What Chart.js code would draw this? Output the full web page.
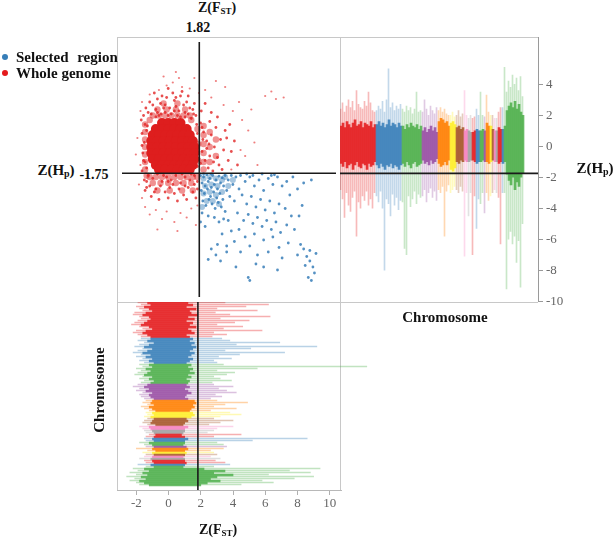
<!DOCTYPE html>
<html><head><meta charset="utf-8">
<script src="https://cdn.jsdelivr.net/npm/chart.js@4.4.0/dist/chart.umd.min.js"></script>
<style>
html,body{margin:0;padding:0;background:#fff;}
#wrap{position:relative;width:614px;height:538px;overflow:hidden;font-family:"Liberation Serif","DejaVu Serif",serif;}
.t{position:absolute;transform:translate(-50%,-50%);font-weight:bold;font-size:15px;color:#111;white-space:nowrap;line-height:1;}
.l{position:absolute;transform:translateY(-50%);font-weight:bold;font-size:15px;color:#111;white-space:nowrap;line-height:1;}
.sb{font-size:9px;position:relative;top:2px;}
.hl{position:absolute;background:#c8c8c8;height:1px;}
.vl{position:absolute;background:#c8c8c8;width:1px;}
.cv{position:absolute;}
.dot{position:absolute;width:6px;height:6px;border-radius:50%;transform:translate(-50%,-50%);}
</style></head>
<body>
<div id="wrap">
  <div class="hl" style="left:117px;top:37px;width:421px"></div>
  <div class="vl" style="left:117px;top:37px;height:453px"></div>
  <div class="vl" style="left:340px;top:37px;height:453px"></div>
  <div class="hl" style="left:117px;top:302px;width:421px"></div>

  <canvas id="c1" class="cv" width="224" height="265" style="left:117px;top:37px"></canvas>
  <canvas id="c2" class="cv" width="240" height="285" style="left:340px;top:27px"></canvas>
  <canvas id="c3" class="cv" width="254" height="218" style="left:117px;top:302px"></canvas>

  <div class="t" style="left:217px;top:8px;font-size:14px">Z(F<span class="sb">ST</span>)</div>
  <div class="t" id="fstLab" style="left:198px;top:28px;font-size:14px"></div>
  <div class="t" style="left:56px;top:170px">Z(H<span class="sb" style="font-size:10px">p</span>)</div>
  <div class="t" id="hpLab" style="left:94px;top:175px;font-size:14px"></div>
  <div class="t" style="left:595px;top:168px">Z(H<span class="sb" style="font-size:10px">p</span>)</div>
  <div class="t" style="left:445px;top:317px">Chromosome</div>
  <div class="t" style="left:99px;top:390px;transform:translate(-50%,-50%) rotate(-90deg)">Chromosome</div>
  <div class="t" style="left:218px;top:530px;font-size:14px">Z(F<span class="sb">ST</span>)</div>

  <div class="dot" style="left:5px;top:57px;background:#377eb8"></div>
  <div class="l" style="left:16px;top:57px;word-spacing:5px">Selected region</div>
  <div class="dot" style="left:5px;top:73px;background:#e41a1c"></div>
  <div class="l" style="left:16px;top:73px">Whole genome</div>
</div>
<script>
// ---------- thresholds & ticks ----------
const fstThreshold = 1.82;
const hpThreshold = -1.75;
const fstTicks = [-2, 0, 2, 4, 6, 8, 10];
const hpTicks = [4, 2, 0, -2, -4, -6, -8, -10];

// ---------- scatter: Z(Fst) vs Z(Hp) ----------
const redCore = [
  [-0.6,1.6],[-0.2,1.6],[0.2,1.6],[0.6,1.6],
  [-1.0,1.2],[-0.6,1.2],[-0.2,1.2],[0.2,1.2],[0.6,1.2],[1.0,1.2],
  [-1.2,0.8],[-0.8,0.8],[-0.4,0.8],[0,0.8],[0.4,0.8],[0.8,0.8],[1.2,0.8],
  [-1.3,0.4],[-0.9,0.4],[-0.5,0.4],[-0.1,0.4],[0.3,0.4],[0.7,0.4],[1.1,0.4],[1.4,0.4],
  [-1.3,0],[-0.9,0],[-0.5,0],[-0.1,0],[0.3,0],[0.7,0],[1.1,0],[1.5,0],
  [-1.3,-0.4],[-0.9,-0.4],[-0.5,-0.4],[-0.1,-0.4],[0.3,-0.4],[0.7,-0.4],[1.1,-0.4],[1.5,-0.4],
  [-1.2,-0.8],[-0.8,-0.8],[-0.4,-0.8],[0,-0.8],[0.4,-0.8],[0.8,-0.8],[1.2,-0.8],[1.5,-0.8],
  [-1.0,-1.2],[-0.6,-1.2],[-0.2,-1.2],[0.2,-1.2],[0.6,-1.2],[1.0,-1.2],[1.4,-1.2],
  [-0.8,-1.5],[-0.4,-1.5],[0,-1.5],[0.4,-1.5],[0.8,-1.5],[1.2,-1.5]
];
const redMid = [
  [-1.2,2.1],[-0.8,2.1],[-0.4,2.1],[0,2.1],[0.4,2.1],[0.8,2.1],[1.2,2.1],
  [-0.9,2.5],[-0.3,2.5],[0.3,2.5],[0.9,2.5],[-0.5,2.9],[0.4,2.9],
  [-1.7,1.5],[-1.7,1.0],[-1.7,0.5],[-1.7,0],[-1.7,-0.5],[-1.7,-1.0],[-1.7,-1.5],
  [-1.4,1.8],[1.3,1.8],[1.7,1.2],[1.75,0.2],[1.75,-0.9],
  [-1.4,-2.0],[-1.0,-2.0],[-0.6,-2.0],[-0.2,-2.0],[0.2,-2.0],[0.6,-2.0],[1.0,-2.0],[1.4,-2.0],[1.7,-2.0],
  [-1.2,-2.4],[-0.7,-2.4],[-0.2,-2.4],[0.3,-2.4],[0.8,-2.4],[1.3,-2.4],[-1.6,-1.9],
  [-0.9,-2.9],[-0.1,-2.9],[0.7,-2.9],[1.4,-2.9],
  [2.1,1.4],[2.1,0.8],[2.1,0.2],[2.1,-0.4],[2.1,-1.0],[2.1,-1.5],
  [2.5,1.0],[2.5,0.0],[2.5,-1.0],[2.9,0.5],[2.9,-0.6]
];
const redHalo = [
  [-1.8,2.1],[-1.7,1.5],[-1.9,0.9],[-1.75,0.3],[-1.85,-0.4],[-1.7,-1.0],[-1.9,-1.6],[-1.75,-2.2],[-1.6,-2.7],[-1.95,1.8],
  [-1.65,2.6],[-1.8,-0.9],[-1.9,0.1],[-1.6,1.1],[-1.7,-2.9],
  [-1.3,2.2],[-1.0,2.5],[-0.7,2.9],[-0.4,2.3],[-0.1,2.6],[0.2,3.1],[0.5,2.4],[0.8,2.8],[1.1,2.2],[1.4,2.5],
  [-1.2,2.8],[-0.8,2.1],[-0.3,3.3],[0.0,2.2],[0.3,2.7],[0.6,3.4],[0.9,2.3],[1.3,1.9],[1.6,2.1],[-0.5,2.6],
  [0.1,3.6],[1.0,3.0],[-0.9,3.2],[0.4,2.1],[1.5,2.9],
  [-1.4,3.0],[-1.1,3.6],[-0.6,3.4],[-0.2,3.9],[0.3,3.3],[0.7,3.7],[1.1,3.4],[-0.9,2.3],[-0.2,2.1],[0.6,2.0],
  [1.2,2.6],[-1.5,2.3],[-0.4,2.8],[0.9,2.0],[-1.0,2.0],[0.2,2.4],[1.45,2.2],[-0.65,2.2],
  [-1.5,-1.9],[-1.2,-2.1],[-0.9,-1.8],[-0.6,-2.3],[-0.3,-2.0],[0.0,-2.2],[0.3,-1.9],[0.6,-2.4],[0.9,-2.0],[1.2,-2.2],
  [1.5,-1.9],[1.7,-2.3],[-1.4,-2.6],[-1.0,-2.8],[-0.7,-2.6],[-0.4,-3.0],[-0.1,-2.7],[0.2,-3.1],[0.5,-2.8],[0.8,-3.2],
  [1.1,-2.7],[1.4,-3.0],[1.7,-2.8],[-1.3,-3.3],[-0.8,-3.5],[-0.2,-3.4],[0.4,-3.6],[1.0,-3.5],[1.6,-3.4],[-1.6,-2.3],
  [-0.5,-1.9],[0.1,-2.5],[0.7,-1.8],[1.3,-1.8],[-1.1,-3.0],[0.9,-2.6],[-0.2,-2.3],[1.5,-2.5],
  [1.9,1.6],[2.1,1.0],[2.3,0.4],[2.0,-0.3],[2.2,-0.9],[2.4,-1.4],[2.6,0.8],[2.8,0.0],[3.0,-0.7],[2.5,1.7],
  [2.9,1.3],[3.2,0.5],[3.4,-0.2],[3.1,-1.2],[2.7,-1.6],[1.95,2.4],[2.2,2.9],[2.6,2.3],[3.0,2.0],[3.5,1.1],
  [3.7,-0.9],[3.3,-1.5],[1.9,-1.1],[2.05,0.5],[2.3,-0.1],[2.5,-0.6],[2.0,1.3],[2.45,0.2],[2.75,-1.0],[3.6,0.6],
  [3.9,-0.3],[4.1,0.4],[4.3,-1.2],[3.8,1.5],
  [1.7,0.9],[1.75,-0.2],[1.7,-1.3],[1.65,1.5],[-1.55,1.4],[-1.6,-1.4]
];
const redSparse = [
  [0.3,5.0],[0.5,4.6],[0.1,4.3],[-0.3,4.1],[0.7,4.0],[-0.8,3.8],[1.2,3.9],[-1.4,3.5],[-1.9,3.0],[-2.0,2.4],
  [1.8,3.6],[2.2,3.8],[2.6,3.3],[3.4,2.8],[4.0,2.4],[4.6,1.8],[5.0,1.1],[5.4,0.3],[4.8,-0.6],[5.6,-1.2],
  [6.1,3.4],[6.5,3.7],[6.8,3.2],[7.3,3.3],[4.4,3.0],[5.2,2.5],[3.9,-1.5],[4.5,-0.2],[-2.0,-1.2],[-2.1,-2.5],
  [-1.9,-3.4],[-1.7,-4.0],[-1.4,-4.5],[-1.0,-4.2],[-0.6,-4.8],[-0.3,-4.3],[0.2,-5.0],[0.6,-4.4],[1.0,-4.7],[1.3,-4.1],
  [1.6,-5.2],[-0.9,-5.5],[0.4,-5.6],[1.7,-3.9],[-2.2,0.6],[-2.3,-0.5],[3.5,4.0],[2.9,4.4],[1.5,4.6],[-0.5,4.7]
];
const blueDense = [
  [2.1,-2.1],[2.5,-2.0],[2.9,-2.1],[3.3,-2.2],[2.2,-2.6],[2.6,-2.5],[3.0,-2.6],[2.1,-3.1],[2.5,-3.0],[2.9,-3.2],
  [2.3,-3.6],[2.7,-3.6],[3.3,-3.0],[3.7,-2.6],[3.5,-2.0],[4.0,-2.2],[2.0,-4.0],[3.1,-3.8]
];
const bluePts = [
  [1.9,-1.9],[2.1,-2.0],[2.3,-1.85],[2.5,-2.1],[2.7,-1.9],[2.9,-2.2],[3.1,-1.95],[3.3,-2.05],[3.5,-1.9],[2.0,-2.4],
  [2.2,-2.6],[2.4,-2.3],[2.6,-2.7],[2.8,-2.5],[3.0,-2.8],[3.2,-2.4],[3.4,-2.6],[1.95,-2.9],[2.15,-3.1],[2.35,-2.8],
  [2.55,-3.3],[2.75,-3.0],[2.95,-3.4],[3.15,-3.1],[3.35,-3.5],[2.05,-3.6],[2.25,-3.9],[2.45,-3.5],[2.65,-3.8],[2.85,-4.1],
  [3.05,-3.7],[3.25,-4.0],[2.1,-1.8],[2.6,-1.8],[3.7,-2.2],[3.9,-1.9],[3.6,-2.9],[3.8,-3.3],[4.0,-2.5],[4.2,-2.0],
  [4.4,-2.8],[4.1,-3.6],[3.5,-4.3],[2.0,-4.4],[2.4,-4.6],[1.9,-5.0],[2.8,-4.7],[3.1,-5.0],[2.2,-5.3],[3.4,-4.8],
  [4.5,-1.9],[4.8,-2.3],[5.1,-2.0],[5.4,-2.6],[5.7,-2.2],[6.0,-2.9],[6.3,-2.1],[6.6,-2.5],[6.9,-2.0],[7.2,-2.6],
  [4.6,-3.2],[4.9,-3.8],[5.2,-3.3],[5.5,-4.0],[5.8,-3.5],[6.1,-4.2],[6.4,-3.6],[6.7,-4.4],[7.0,-3.8],[7.4,-4.1],
  [4.3,-4.4],[4.7,-4.9],[5.0,-4.5],[5.3,-5.1],[5.6,-4.7],[5.9,-5.3],[6.2,-4.9],[6.5,-5.5],[6.8,-5.0],[7.1,-5.7],
  [4.4,-5.5],[4.8,-6.0],[5.4,-5.8],[6.0,-6.2],[6.6,-6.0],[7.5,-5.2],[7.8,-4.6],[8.0,-5.5],[7.7,-3.2],[8.2,-2.8],
  [7.5,-2.3],[6.5,-1.9],[5.9,-1.8],[8.5,-3.9],[8.3,-4.6],[3.7,-4.9],[3.9,-5.6],[4.1,-6.3],[3.3,-5.8],[3.6,-6.6],
  [4.5,-7.0],[5.1,-6.6],[5.6,-7.2],[6.3,-7.0],[7.0,-6.7],[4.9,-1.8],[5.3,-1.9],[6.7,-1.85],[7.9,-2.0],[8.6,-2.4],
  [9.1,-2.2],[8.6,-6.8],[8.8,-7.3],[9.0,-7.6],[9.2,-8.0],[9.3,-8.4],[8.9,-8.7],[9.1,-8.9],[9.4,-7.1],[8.7,-7.9],
  [8.4,-6.5],[9.0,-6.9],[8.2,-7.2],[2.6,-6.8],[2.9,-7.2],[3.2,-7.6],[3.6,-7.0],[2.4,-7.5],[3.0,-6.5],[5.0,-8.7],
  [5.1,-8.9],[4.2,-8.0],[6.0,-8.0],[5.5,-7.8],[7.2,-7.4],[7.6,-6.4],[6.9,-8.2]
];

// ---------- chromosomes ----------
const chrBins = [18,13,10,8,6,3,4,2,2,2,2,2,1,2,1,1,1,1,2,1,1,9];
const chrColors = ['red','blue','green','purple','orange','yellow','brown','pink','gray','red','blue','green',
                   'purple','orange','yellow','brown','pink','gray','red','blue','green','green'];

// Manhattan of Z(Hp) per chromosome bin: dense core range and sparse spread range
const hpCoreHi = [
  1.3,1.5,1.2,1.6,1.4,1.2,1.5,1.7,1.3,1.4,1.6,1.2,1.5,1.4,1.3,1.6,1.2,1.4,
  1.4,1.6,1.3,1.5,1.2,1.4,1.7,1.3,1.5,1.4,1.2,1.5,1.3,
  1.3,1.1,1.4,1.2,1.5,1.3,1.2,1.4,1.1,1.3,
  1.0,1.2,0.9,1.1,1.3,1.0,1.2,0.9,
  1.6,1.8,1.7,1.5,1.6,1.3,
  1.5,1.6,1.4,
  1.2,1.3,1.1,1.2,
  1.0,1.1, 1.0,0.9, 0.9,1.0, 1.1,1.0, 1.0,1.1, 1.0, 1.5,1.3, 1.3, 1.1, 1.0, 1.0, 1.2,1.1, 1.1, 1.3,
  2.3,2.6,2.8,2.5,2.9,2.4,2.7,2.2,2.0
];
const hpCoreLo = [
  -1.1,-1.3,-1.0,-1.4,-1.2,-1.1,-1.5,-1.2,-1.0,-1.3,-1.4,-1.1,-1.2,-1.5,-1.1,-1.3,-1.2,-1.0,
  -1.2,-1.4,-1.1,-1.3,-1.5,-1.2,-1.3,-1.1,-1.4,-1.2,-1.3,-1.5,-1.2,
  -1.1,-1.3,-1.0,-1.2,-1.4,-1.1,-1.0,-1.3,-1.2,-1.1,
  -0.9,-1.1,-1.0,-1.2,-0.9,-1.1,-1.0,-0.8,
  -1.1,-1.3,-1.2,-1.0,-1.2,-0.9,
  -1.5,-1.6,-1.4,
  -1.0,-1.1,-0.9,-1.0,
  -0.9,-1.0, -1.0,-0.9, -0.9,-1.0, -1.1,-1.0, -1.0,-0.9, -1.0, -1.0,-1.1, -1.0, -0.9, -1.0, -1.0, -1.1,-1.0, -1.1, -1.0,
  -1.8,-2.2,-2.5,-2.0,-2.8,-2.3,-2.6,-2.0,-1.7
];
const hpSprHi = [
  2.4,2.8,2.2,2.6,3.0,2.5,2.9,2.3,3.6,2.7,2.5,2.4,2.9,2.6,3.5,2.8,2.3,2.2,
  2.3,2.6,2.4,2.9,2.2,3.0,5.0,2.5,2.8,2.3,2.6,2.4,2.7,
  2.4,2.2,2.6,2.3,2.5,2.1,2.4,3.5,2.2,2.3,
  2.2,3.0,2.4,2.0,2.6,2.3,2.1,2.5,
  2.3,2.5,2.2,2.4,2.1,2.0,
  2.0,2.2,1.9,
  2.0,2.3,1.9,2.1,
  3.6,2.0, 1.8,2.0, 1.8,1.9, 2.4,2.0, 3.5,2.0, 1.9, 3.3,2.2, 2.0, 2.0, 1.8, 1.8, 2.2,2.5, 2.5, 5.1,
  3.5,4.2,3.8,4.6,4.0,4.4,3.6,4.5,3.2
];
const hpSprLo = [
  -2.8,-3.4,-4.6,-3.0,-3.8,-4.2,-3.3,-2.9,-5.8,-3.6,-4.0,-3.2,-3.5,-2.9,-3.8,-3.4,-4.0,-3.0,
  -3.2,-3.6,-2.9,-4.0,-8.0,-3.4,-3.7,-4.5,-3.1,-3.8,-3.3,-4.1,-3.5,
  -3.6,-6.6,-7.0,-3.2,-3.9,-3.4,-2.9,-3.7,-3.1,-3.3,
  -3.2,-2.8,-3.6,-3.0,-2.7,-3.3,-2.9,-3.5,
  -2.8,-3.0,-2.6,-5.8,-2.9,-2.5,
  -3.0,-2.8,-2.6,
  -2.8,-3.0,-2.6,-2.9,
  -7.1,-3.0, -4.5,-3.0, -7.0,-3.2, -5.3,-3.4, -3.7,-3.0, -4.3, -3.0,-3.5, -3.2, -3.0, -2.8, -3.0, -3.3,-6.3, -3.0, -3.0,
  -9.2,-6.0,-5.5,-6.3,-5.8,-7.5,-6.1,-9.1,-5.0
];

// Z(Fst) per chromosome bin (bottom panel)
const fstCoreLo = [
  -1.3,-1.1,-1.5,-1.2,-1.0,-1.4,-1.6,-1.2,-1.1,-1.3,-1.5,-1.7,-1.2,-1.0,-1.4,-1.6,-1.3,-1.1,
  -1.1,-1.3,-0.9,-1.2,-1.5,-1.0,-1.3,-1.6,-1.1,-1.4,-1.0,-1.2,-0.9,
  -1.2,-1.0,-1.4,-1.1,-1.3,-1.5,-1.0,-1.2,-0.9,-1.1,
  -1.3,-1.5,-1.2,-1.4,-1.0,-1.2,-1.1,-0.9,
  -1.0,-1.1,-0.9,-1.2,-1.0,-0.8,
  -1.0,-0.9,-1.1,
  -0.9,-1.0,-1.1,-0.8,
  -1.2,-1.1, -1.0,-0.9, -0.8,-0.9, -1.0,-0.9, -1.2,-1.0, -0.9, -1.0,-0.8, -1.0, -0.9, -1.0, -1.1, -1.0,-0.9, -1.1, -0.9,
  -1.5,-1.2,-1.6,-1.3,-1.7,-1.4,-1.8,-1.5,-1.2
];
const fstCoreHi = [
  1.2,1.5,1.1,1.7,1.3,1.4,1.8,1.2,1.6,1.1,1.5,1.3,1.7,1.2,1.4,1.6,1.1,1.3,
  1.5,1.3,1.6,1.4,1.7,1.5,1.3,1.6,1.4,1.2,1.5,1.3,1.1,
  1.4,1.2,1.5,1.3,1.6,1.2,1.4,1.1,1.3,1.2,
  1.1,1.3,1.0,1.2,1.4,1.1,1.0,1.2,
  1.6,1.7,1.5,1.6,1.4,1.3,
  1.5,1.6,1.4,
  1.1,1.2,1.0,0.9,
  1.2,1.0, 1.0,0.9, 0.8,1.0, 1.2,1.0, 1.0,0.9, 1.1, 1.2,1.0, 1.1, 1.0, 0.9, 1.0, 1.0,1.1, 1.0, 0.9,
  2.2,3.5,2.8,4.0,3.0,2.6,3.2,2.4,2.0
];
const fstSprLo = [
  -1.9,-1.7,-2.0,-1.8,-1.6,-2.1,-2.2,-1.8,-1.7,-1.9,-2.1,-2.3,-1.8,-1.6,-2.0,-2.2,-1.9,-1.7,
  -1.7,-1.9,-1.5,-1.8,-2.1,-1.6,-1.9,-2.2,-1.7,-2.0,-1.6,-1.8,-1.5,
  -1.8,-1.6,-2.0,-1.7,-1.9,-2.1,-1.6,-1.8,-1.5,-1.7,
  -1.9,-2.2,-1.8,-2.0,-1.6,-1.8,-1.7,-1.5,
  -1.4,-1.6,-1.3,-1.7,-1.5,-1.2,
  -1.4,-1.3,-1.5,
  -1.3,-1.5,-1.6,-1.3,
  -1.8,-1.6, -1.5,-1.4, -1.2,-1.4, -1.5,-1.4, -1.8,-1.5, -1.4, -2.0,-1.3, -1.6, -1.4, -1.5, -1.8, -1.5,-1.4, -1.9, -1.4,
  -2.2,-1.9,-2.4,-2.0,-2.6,-2.1,-2.4,-2.0,-1.8
];
const fstSprHi = [
  3.5,6.2,4.8,3.0,5.5,2.9,3.8,6.3,3.2,5.0,4.1,3.0,4.6,3.4,5.8,2.8,3.6,2.7,
  3.3,3.8,6.9,4.2,9.2,5.1,3.5,7.2,4.4,3.1,3.9,2.8,3.0,
  3.4,12.3,5.5,3.0,4.1,3.6,2.8,3.2,3.9,2.7,
  2.8,4.0,3.1,3.6,4.2,2.9,3.3,2.6,
  3.0,4.9,3.5,2.8,4.2,2.6,
  3.8,4.5,3.2,
  2.8,4.0,3.2,2.5,
  4.0,3.0, 2.8,2.4, 4.5,2.8, 8.6,5.2, 3.0,3.4, 3.6, 3.4,2.6, 2.8, 3.0, 2.6, 3.2, 2.9,3.5, 3.8, 2.8,
  9.4,7.5,8.8,6.2,9.0,7.8,5.8,6.5,4.5
];

// ---------- styling helpers ----------
const palette = {red:'228,26,28', blue:'55,126,184', green:'77,175,74', purple:'152,78,163', orange:'255,127,0',
                 yellow:'255,238,40', brown:'166,86,40', pink:'247,129,191', gray:'160,160,160'};
const binChr = [];
chrBins.forEach((n, c) => { for (let k = 0; k < n; k++) binChr.push(c); });
const binColor = (a) => binChr.map(c => 'rgba(' + palette[chrColors[c]] + ',' + a + ')');
const nBinsH = 99, nBinsV = 94;
const xMin = -3.2, xMax = 10.7, yMin = -10, yMax = 7;

document.getElementById('fstLab').textContent = fstThreshold.toFixed(2);
document.getElementById('hpLab').textContent = hpThreshold.toFixed(2);

const common = {
  responsive: false, animation: false, events: [],
  plugins: { legend: { display: false }, tooltip: { enabled: false } }
};
const toPts = arr => arr.map(p => ({ x: p[0], y: p[1] }));
const lineStyle = { type: 'line', showLine: true, pointRadius: 0, borderColor: '#1a1a1a', borderWidth: 1.6, fill: false };
const tickFont = { family: 'Liberation Serif, DejaVu Serif, serif', size: 13 };

// Chart 1: scatter
new Chart(document.getElementById('c1'), {
  type: 'scatter',
  data: { datasets: [
    Object.assign({ data: [{x: fstThreshold, y: yMin}, {x: fstThreshold, y: yMax}] }, lineStyle),
    Object.assign({ data: [{x: xMin, y: hpThreshold}, {x: xMax, y: hpThreshold}] }, lineStyle),
    { data: toPts(bluePts), pointRadius: 1.4, pointBorderWidth: 0, backgroundColor: 'rgba(55,126,184,0.85)' },
    { data: toPts(blueDense), pointRadius: 3, pointBorderWidth: 0, backgroundColor: 'rgba(55,126,184,0.45)' },
    { data: toPts(redCore), pointRadius: 5, pointBorderWidth: 0, backgroundColor: 'rgba(222,30,30,1)' },
    { data: toPts(redMid), pointRadius: 3.2, pointBorderWidth: 0, backgroundColor: 'rgba(225,35,35,0.5)' },
    { data: toPts(redHalo), pointRadius: 1.4, pointBorderWidth: 0, backgroundColor: 'rgba(225,35,35,0.8)' },
    { data: toPts(redSparse), pointRadius: 1.1, pointBorderWidth: 0, backgroundColor: 'rgba(228,40,40,0.6)' }
  ]},
  options: Object.assign({}, common, {
    layout: { padding: 0 },
    scales: {
      x: { type: 'linear', min: xMin, max: xMax, display: false },
      y: { type: 'linear', min: yMin, max: yMax, display: false }
    }
  })
});

// Chart 2: Manhattan of Z(Hp)
new Chart(document.getElementById('c2'), {
  type: 'bar',
  data: { datasets: [
    Object.assign({ data: [{x: 0, y: hpThreshold}, {x: nBinsH, y: hpThreshold}] }, lineStyle),
    { data: hpCoreLo.map((lo, i) => ({ x: i + 0.5, y: [lo, hpCoreHi[i]] })), backgroundColor: binColor(0.85),
      barThickness: 2, grouped: false, borderWidth: 0 },
    { data: hpSprLo.map((lo, i) => ({ x: i + 0.25, y: [lo, hpSprHi[i]] })), backgroundColor: binColor(0.3),
      barThickness: 1, grouped: false, borderWidth: 0 }
  ]},
  options: Object.assign({}, common, {
    layout: { padding: { top: 10, bottom: 10, left: 0, right: 0 } },
    scales: {
      x: { type: 'linear', min: 0, max: nBinsH, display: false, offset: false, grid: { offset: false } },
      y: { type: 'linear', position: 'right', min: yMin, max: yMax, beginAtZero: false,
           afterBuildTicks: s => { s.ticks = hpTicks.map(v => ({ value: v })); },
           afterFit: s => { s.width = 42; },
           ticks: { font: tickFont, color: '#666', padding: 3 },
           grid: { drawOnChartArea: false, tickLength: 5, color: '#9a9a9a' },
           border: { display: true, color: '#9a9a9a' } }
    }
  })
});

// Chart 3: Z(Fst) per chromosome
new Chart(document.getElementById('c3'), {
  type: 'bar',
  data: { datasets: [
    Object.assign({ data: [{x: fstThreshold, y: 0}, {x: fstThreshold, y: nBinsV}] }, lineStyle),
    { data: fstCoreLo.map((lo, i) => ({ y: i + 0.5, x: [lo, fstCoreHi[i]] })), backgroundColor: binColor(0.82),
      barThickness: 2, grouped: false, borderWidth: 0 },
    { data: fstSprLo.map((lo, i) => ({ y: i + 0.25, x: [lo, fstSprHi[i]] })), backgroundColor: binColor(0.35),
      barThickness: 1, grouped: false, borderWidth: 0, clip: false }
  ]},
  options: Object.assign({}, common, {
    indexAxis: 'y',
    layout: { padding: { top: 0, bottom: 0, left: 0, right: 30 } },
    scales: {
      y: { type: 'linear', min: 0, max: nBinsV, reverse: true, display: false, offset: false, grid: { offset: false } },
      x: { type: 'linear', position: 'bottom', min: xMin, max: xMax, beginAtZero: false,
           afterBuildTicks: s => { s.ticks = fstTicks.map(v => ({ value: v })); },
           afterFit: s => { s.height = 30; },
           ticks: { font: tickFont, color: '#666', padding: 1, maxRotation: 0 },
           grid: { drawOnChartArea: false, tickLength: 5, color: '#b0b0b0' },
           border: { display: true, color: '#b8b8b8' } }
    }
  })
});
</script>
</body></html>
